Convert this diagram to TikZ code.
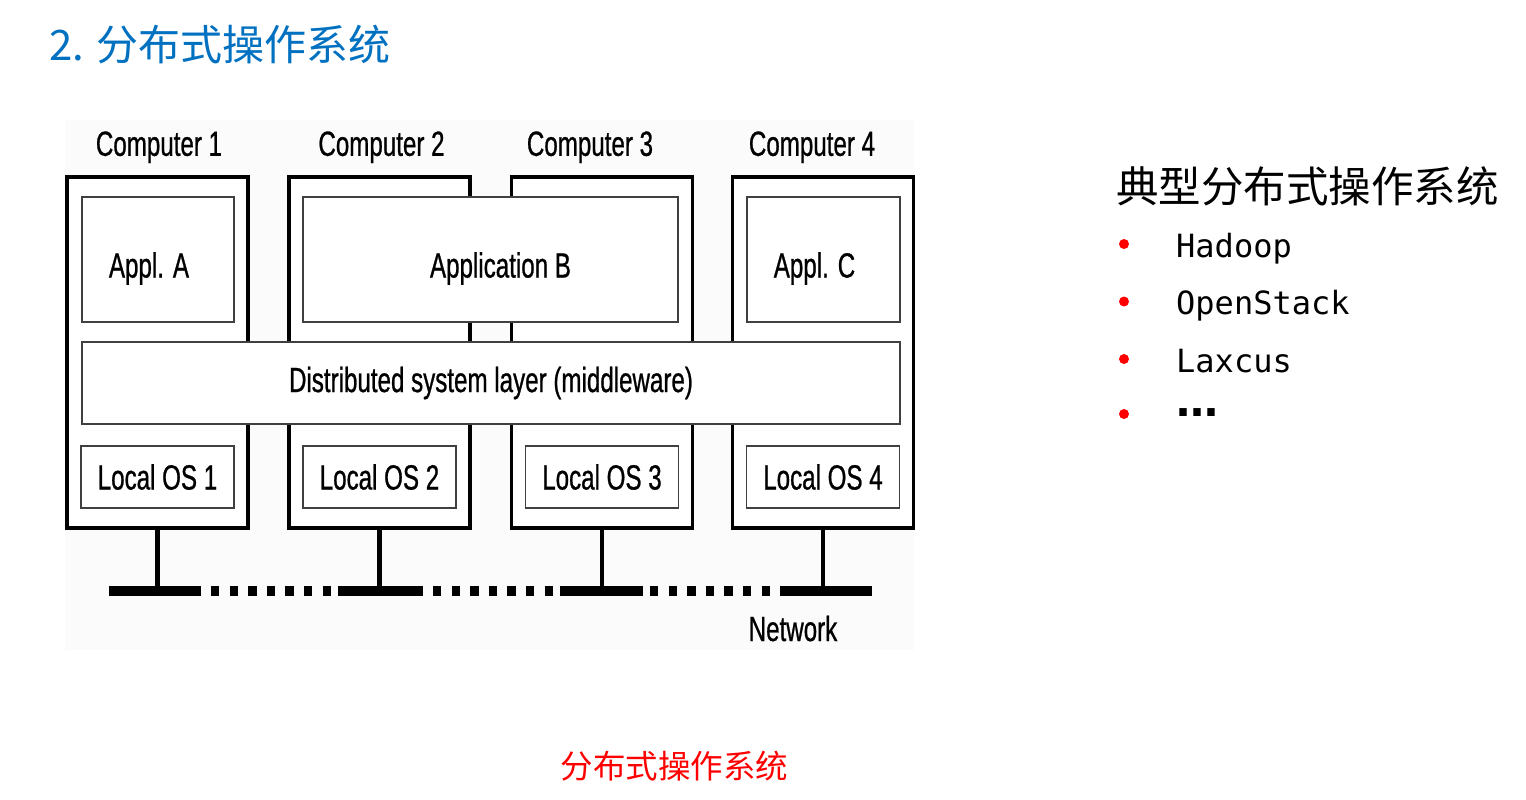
\documentclass[tikz,border=0pt]{standalone}
\usepackage{fontspec}
\usepackage{xcolor}
\usetikzlibrary{positioning}
\newfontfamily\figfont[FakeStretch=0.69, FakeBold=0.7]{Liberation Sans}
\newfontfamily\cjk{Noto Sans CJK SC}
\newfontfamily\itemfont{DejaVu Sans Mono}
\newfontfamily\dotsfont{DejaVu Sans}
\definecolor{titleblue}{RGB}{0,112,192}
\tikzstyle{comp}=[draw, line width=3.4pt, fill=white, inner sep=0, minimum width=181pt, minimum height=351pt]
\tikzstyle{bx}=[draw=black!75, line width=1.8pt, fill=white, inner sep=0, font=\figfont\fontsize{35}{40}\selectfont]
\tikzstyle{lbl}=[inner sep=0, font=\figfont\fontsize{35}{40}\selectfont]
\tikzstyle{tap}=[line width=4.5pt]
\tikzstyle{netseg}=[line width=10.5pt]
\tikzstyle{netdots}=[line width=10.5pt, dash pattern=on 8.3pt off 10.3pt]
\tikzstyle{bul}=[circle, fill=red, inner sep=0, minimum size=10pt]
\tikzstyle{itm}=[anchor=base west, inner sep=0, font=\itemfont\fontsize{32}{38}\selectfont]
\begin{document}
\begin{tikzpicture}[x=1pt, y=-1pt]
\useasboundingbox (0,0) rectangle (1526,800);
\node (title) [anchor=west, inner sep=0, text=titleblue, font=\cjk\fontsize{42}{48}\selectfont] at (49,45) {2. 分布式操作系统};
% figure
\fill[black!1.5] (65,120) rectangle (914,650);
\foreach \x/\dx [count=\i] in {157.5/1.5, 379.5/2, 602/-12, 823/-11} {
    \node (c\i) [comp] at (\x,352.5) {};
    \node (lab\i) [lbl, above=12pt of c\i, xshift=\dx pt] {Computer \i};
}
\node (appA) [bx, minimum width=152pt, minimum height=125pt] at (158,259.5) {};
\node (appB) [bx, minimum width=375pt, minimum height=125pt] at (490.5,259.5) {};
\node (appC) [bx, minimum width=153pt, minimum height=125pt] at (823.5,259.5) {};
\node (txtA) [lbl] at ([xshift=-9pt, yshift=-9pt]appA.center) {Appl. A};
\node (txtB) [lbl] at ([xshift=10pt, yshift=-9pt]appB.center) {Application B};
\node (txtC) [lbl] at ([xshift=-9pt, yshift=-9pt]appC.center) {Appl. C};
\node (mw) [bx, minimum width=818pt, minimum height=82pt] at (491,383) {Distributed system layer (middleware)};
\coordinate (osrow) at (0,477);
\foreach \i in {1,...,4}
    \node (os\i) [bx, minimum width=153pt, minimum height=62pt] at (c\i |- osrow) {Local OS \i};
% network
\coordinate (bus) at (490,591);
\foreach \i in {1,...,4}
    \draw[tap] (c\i.south) -- (c\i.south |- bus);
\foreach \a/\b in {109/201, 338/423, 560/643, 780/872}
    \draw[netseg] (\a,591) -- (\b,591);
\foreach \a/\b in {211/331, 433/553, 650/770}
    \draw[netdots] (\a,591) -- (\b,591);
\node (net) [lbl] at (793,628.5) {Network};
% list
\node (heading) [anchor=west, inner sep=0, font=\cjk\fontsize{42.5}{48}\selectfont] at (1116,186) {典型分布式操作系统};
\foreach \t [count=\i] in {Hadoop, OpenStack, Laxcus} {
    \node (dot\i) [bul] at (1124,{244+57.5*(\i-1)}) {};
    \node (item\i) [itm] at (1176,{257+57.5*(\i-1)}) {\t};
}
\node (dot4) [bul] at (1124,414) {};
\node (item4) [inner sep=0, font=\dotsfont\bfseries\fontsize{42}{48}\selectfont] at (1197,413) {…};
\node (caption) [text=red, inner sep=0, font=\cjk\fontsize{32.5}{38}\selectfont] at (674.5,766) {分布式操作系统};
\end{tikzpicture}
\end{document}
